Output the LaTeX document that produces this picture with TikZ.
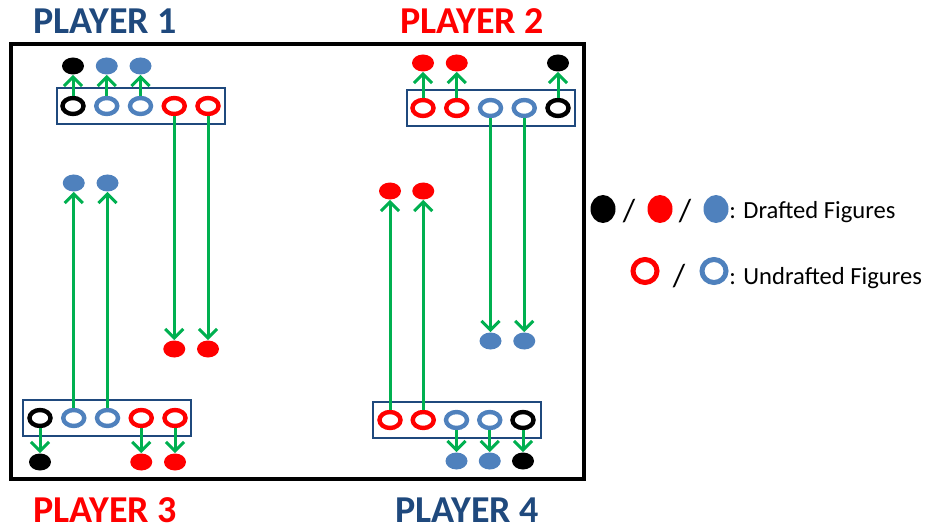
\documentclass[tikz,border=0pt]{standalone}
\usepackage{fontspec}
\setmainfont{Carlito}
\usetikzlibrary{arrows.meta,shapes.geometric}
\definecolor{figblue}{RGB}{79,129,189}
\definecolor{navy}{RGB}{31,73,125}
\definecolor{figgreen}{RGB}{0,176,80}
\tikzset{
  dot/.style={ellipse, fill=#1, minimum width=11pt, minimum height=8.5pt, inner sep=0pt},
  bigdot/.style={ellipse, fill=#1, minimum width=12.5pt, minimum height=14pt, inner sep=0pt},
  ring/.style={ellipse, draw=#1, fill=white, line width=2.2pt, minimum width=10.5pt, minimum height=8pt, inner sep=0pt},
  bigring/.style={ellipse, draw=#1, line width=2.5pt, minimum width=12pt, minimum height=11.5pt, inner sep=0pt},
  tray/.style={draw=navy, line width=1pt, minimum width=84pt, minimum height=18pt, inner sep=0pt},
  pick/.style={draw=figgreen, line width=1.5pt, -{Straight Barb[length=4.5pt,width=9pt,line width=1.5pt]}},
  player/.style={font=\fontsize{19}{22}\selectfont\bfseries, text=#1, inner sep=0pt},
  keytext/.style={font=\fontsize{12.3}{15}\selectfont, anchor=west, inner sep=0pt},
  slash/.style={font=\fontsize{16}{19}\selectfont, inner sep=0pt}
}
\begin{document}
\begin{tikzpicture}[x=0.5pt,y=-0.5pt]
    \useasboundingbox (0,0) rectangle (935,529);
    % Board
    \draw[line width=2pt] (11,44) rectangle (584,479);
    % Player names
    \node[player=navy] (n1) at (105,21) {PLAYER 1};
    \node[player=red] (n2) at (472,21) {PLAYER 2};
    \node[player=red] (n3) at (105,510) {PLAYER 3};
    \node[player=navy] (n4) at (467,510) {PLAYER 4};
    % Player 1
    \node[tray] (t1) at (140.5,106) {};
    \foreach \c [count=\i] in {black,figblue,figblue,red,red}
        \node[ring=\c] (p1r\i) at ({73+33.75*(\i-1)},106) {};
    \foreach \i/\c in {1/black,2/figblue,3/figblue} {
            \node[dot=\c] (p1d\i) at ({73+33.75*(\i-1)},66) {};
            \draw[pick] (p1r\i) -- (p1d\i);
        }
    \foreach \i in {4,5} {
            \node[dot=red] (p1m\i) at ({73+33.75*(\i-1)},349) {};
            \draw[pick] (p1r\i) -- (p1m\i);
        }
    % Player 2
    \node[tray] (t2) at (490.5,108) {};
    \foreach \c [count=\i] in {red,red,figblue,figblue,black}
        \node[ring=\c] (p2r\i) at ({423+33.75*(\i-1)},108) {};
    \foreach \i/\c in {1/red,2/red,5/black} {
            \node[dot=\c] (p2d\i) at ({423+33.75*(\i-1)},63) {};
            \draw[pick] (p2r\i) -- (p2d\i);
        }
    \foreach \i in {3,4} {
            \node[dot=figblue] (p2m\i) at ({423+33.75*(\i-1)},341) {};
            \draw[pick] (p2r\i) -- (p2m\i);
        }
    % Player 3
    \node[tray] (t3) at (107,418) {};
    \foreach \c [count=\i] in {black,figblue,figblue,red,red}
        \node[ring=\c] (p3r\i) at ({40+33.75*(\i-1)},418) {};
    \foreach \i/\c in {1/black,4/red,5/red} {
            \node[dot=\c] (p3d\i) at ({40+33.75*(\i-1)},462) {};
            \draw[pick] (p3r\i) -- (p3d\i);
        }
    \foreach \i in {2,3} {
            \node[dot=figblue] (p3m\i) at ({40+33.75*(\i-1)},183) {};
            \draw[pick] (p3r\i) -- (p3m\i);
        }
    % Player 4
    \node[tray] (t4) at (457,420) {};
    \foreach \c [count=\i] in {red,red,figblue,figblue,black}
        \node[ring=\c] (p4r\i) at ({390+33.25*(\i-1)},420) {};
    \foreach \i/\c in {3/figblue,4/figblue,5/black} {
            \node[dot=\c] (p4d\i) at ({390+33.25*(\i-1)},461) {};
            \draw[pick] (p4r\i) -- (p4d\i);
        }
    \foreach \i in {1,2} {
            \node[dot=red] (p4m\i) at ({390+33.25*(\i-1)},191) {};
            \draw[pick] (p4r\i) -- (p4m\i);
        }
    % Legend
    \node[bigdot=black] (k1) at (603,209) {};
    \node[slash] (s1) at (629,211) {/};
    \node[bigdot=red] (k2) at (660,209) {};
    \node[slash] (s2) at (685,211) {/};
    \node[bigdot=figblue] (k3) at (716,209) {};
    \node[keytext] (l1) at (729,212) {: Drafted Figures};
    \node[bigring=red] (k4) at (645,271) {};
    \node[slash] (s3) at (679,276) {/};
    \node[bigring=figblue] (k5) at (714,271) {};
    \node[keytext] (l2) at (729,278) {: Undrafted Figures};
\end{tikzpicture}
\end{document}
